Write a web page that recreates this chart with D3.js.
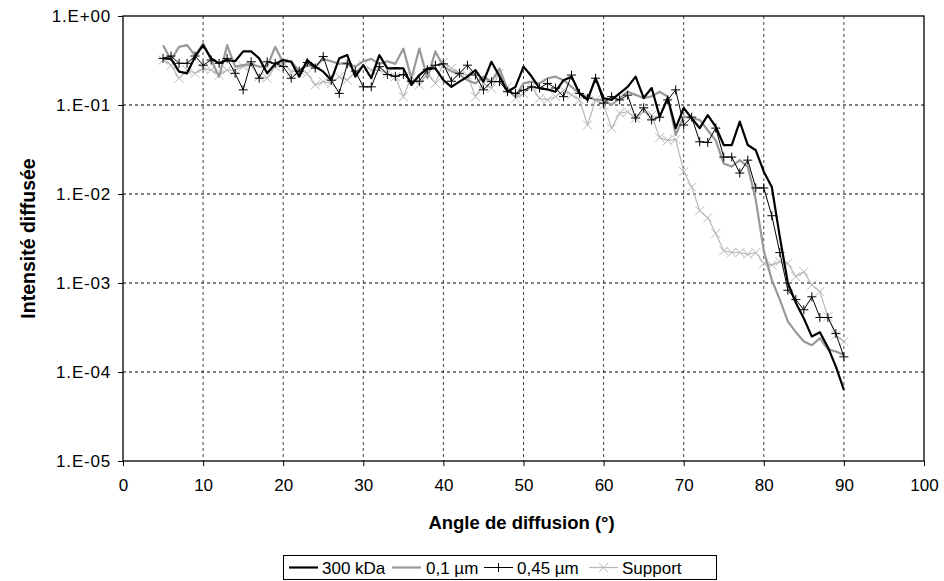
<!DOCTYPE html>
<html><head><meta charset="utf-8">
<script src="https://cdn.jsdelivr.net/npm/d3@7"></script>
<style>body{margin:0;background:#fff}svg{display:block}text{font-family:"Liberation Sans",Arial,sans-serif}</style>
</head><body>
<svg id="c" width="944" height="581"></svg>
<script>
const angles = d3.range(5, 91);
const s300kDa = [0.334,0.33,0.237,0.227,0.35,0.47,0.334,0.294,0.32,0.31,0.40,0.40,0.334,0.227,0.29,0.32,0.306,0.208,0.32,0.27,0.237,0.19,0.334,0.364,0.208,0.28,0.20,0.364,0.258,0.26,0.258,0.168,0.217,0.258,0.258,0.19,0.16,0.183,0.208,0.247,0.183,0.306,0.21,0.141,0.16,0.27,0.21,0.154,0.15,0.141,0.19,0.208,0.135,0.114,0.2,0.119,0.114,0.135,0.16,0.208,0.12,0.155,0.074,0.12,0.055,0.093,0.071,0.055,0.077,0.057,0.0355,0.0355,0.065,0.0355,0.031,0.0178,0.012,0.0033,0.001,0.0006,0.0004,0.00025,0.00028,0.00019,0.000115,0.000063];
const s01um = [0.47,0.32,0.45,0.47,0.36,0.49,0.32,0.208,0.47,0.27,0.28,0.29,0.27,0.27,0.45,0.30,0.31,0.24,0.28,0.27,0.33,0.31,0.29,0.30,0.27,0.31,0.33,0.29,0.31,0.29,0.43,0.20,0.43,0.20,0.40,0.27,0.24,0.22,0.19,0.175,0.208,0.183,0.258,0.148,0.124,0.175,0.183,0.175,0.2,0.208,0.19,0.16,0.135,0.124,0.114,0.114,0.1,0.119,0.141,0.13,0.119,0.125,0.141,0.124,0.046,0.074,0.071,0.068,0.052,0.040,0.022,0.0203,0.024,0.0203,0.0086,0.0023,0.00108,0.00065,0.00037,0.00028,0.00022,0.0002,0.00024,0.00018,0.00017,0.000155];
const s045um = [0.334,0.355,0.294,0.294,0.355,0.28,0.32,0.294,0.334,0.227,0.148,0.306,0.2,0.306,0.294,0.27,0.2,0.24,0.30,0.26,0.35,0.19,0.135,0.29,0.24,0.16,0.16,0.27,0.22,0.21,0.22,0.185,0.185,0.25,0.28,0.29,0.185,0.227,0.28,0.217,0.148,0.183,0.183,0.141,0.135,0.147,0.16,0.155,0.175,0.155,0.124,0.217,0.135,0.119,0.2,0.105,0.124,0.114,0.129,0.0714,0.093,0.068,0.073,0.114,0.148,0.0596,0.073,0.0386,0.038,0.055,0.026,0.026,0.0172,0.024,0.0117,0.0117,0.0057,0.0022,0.00083,0.00065,0.0005,0.0007,0.00041,0.00041,0.00027,0.000148];
const sSupport = [0.32,0.28,0.2,0.247,0.227,0.258,0.247,0.217,0.247,0.247,0.27,0.28,0.208,0.2,0.27,0.3,0.237,0.247,0.227,0.168,0.183,0.175,0.208,0.19,0.237,0.28,0.247,0.247,0.227,0.208,0.124,0.208,0.168,0.227,0.175,0.3,0.258,0.227,0.217,0.124,0.175,0.154,0.227,0.16,0.119,0.135,0.16,0.119,0.114,0.124,0.147,0.13,0.114,0.0596,0.114,0.1,0.055,0.081,0.084,0.071,0.084,0.077,0.043,0.040,0.041,0.0178,0.012,0.0065,0.0054,0.0036,0.0023,0.0022,0.0022,0.0021,0.0022,0.00166,0.00159,0.00174,0.00166,0.00118,0.00134,0.00095,0.0008,0.00042,0.00026,0.00022];
const seriesNames = ["300 kDa","0,1 µm","0,45 µm","Support"];
const xTicks = d3.range(0, 101, 10);
const yTicks = [1,1e-1,1e-2,1e-3,1e-4,1e-5];
const yTickLabels = ["1.E+00","1.E-01","1.E-02","1.E-03","1.E-04","1.E-05"];

const svg = d3.select("#c");
const L = 123, R = 924, T = 16, B = 461;
const x = d3.scaleLinear().domain([0,100]).range([L,R]);
const y = d3.scaleLog().domain([1e-5,1]).range([B,T]);

// grid
const g = svg.append("g");
g.selectAll(".vg").data(xTicks.slice(1,-1)).join("line")
 .attr("x1",d=>x(d)).attr("x2",d=>x(d)).attr("y1",T).attr("y2",B)
 .attr("stroke","#444").attr("stroke-dasharray","3,3").attr("stroke-width",1);
g.selectAll(".hg").data(yTicks.slice(1,-1)).join("line")
 .attr("x1",L).attr("x2",R).attr("y1",d=>y(d)).attr("y2",d=>y(d))
 .attr("stroke","#000").attr("stroke-dasharray","3,3").attr("stroke-width",1);

// axes
const xAxis = d3.axisBottom(x).tickValues(xTicks).tickSize(5).tickPadding(13).tickFormat(d3.format("d"));
const xa = svg.append("g").attr("transform",`translate(0,${B})`).call(xAxis);
const yAxis = d3.axisLeft(y).tickValues(yTicks).tickSize(5).tickPadding(7).tickFormat((d,i)=>yTickLabels[i]);
const ya = svg.append("g").attr("transform",`translate(${L},0)`).call(yAxis);
[xa,ya].forEach(a=>{a.select(".domain").remove();a.selectAll("line").attr("stroke","#000");a.selectAll("text").attr("font-size",17).attr("fill","#000").attr("font-family","Liberation Sans, Arial, sans-serif");});
ya.selectAll("text").attr("letter-spacing","0.8px");

svg.append("rect").attr("x",L).attr("y",T).attr("width",R-L).attr("height",B-T)
 .attr("fill","none").attr("stroke","#000").attr("stroke-width",1.3);

const line = d3.line().x((d,i)=>x(angles[i])).y(d=>y(d));
const styles = [
 {data:s300kDa, color:"#000", w:2.2, marker:null},
 {data:s01um, color:"#999", w:2.2, marker:null},
 {data:s045um, color:"#000", w:1, marker:"plus"},
 {data:sSupport, color:"#b8b8b8", w:1.2, marker:"cross"}
];
const plot = svg.append("g");
function drawMarker(sel, type, color, cx, cy){
  const s = 4.5;
  if(type==="plus"){
    sel.append("path").attr("d",`M${cx-s},${cy}H${cx+s}M${cx},${cy-s}V${cy+s}`).attr("stroke",color).attr("stroke-width",1).attr("fill","none");
  } else if(type==="cross"){
    sel.append("path").attr("d",`M${cx-s},${cy-s}L${cx+s},${cy+s}M${cx-s},${cy+s}L${cx+s},${cy-s}`).attr("stroke",color).attr("stroke-width",1).attr("fill","none");
  }
}
[3,1,2,0].forEach(k=>{
  const st = styles[k];
  plot.append("path").datum(st.data).attr("d",line).attr("fill","none").attr("stroke",st.color).attr("stroke-width",st.w).attr("stroke-linejoin","round");
  if(st.marker){
    st.data.forEach((v,i)=>drawMarker(plot, st.marker, st.color, x(angles[i]), y(v)));
  }
});

// titles
svg.append("text").attr("x",(L+R)/2 - 2).attr("y",529).attr("text-anchor","middle").attr("font-size",18.5).attr("font-weight","bold").text("Angle de diffusion (°)");
svg.append("text").attr("transform",`translate(35,${(T+B)/2}) rotate(-90)`).attr("text-anchor","middle").attr("font-size",19.5).attr("font-weight","bold").text("Intensité diffusée");

// legend
const lg = svg.append("g");
lg.append("rect").attr("x",283.5).attr("y",555.5).attr("width",433).attr("height",24).attr("fill","#fff").attr("stroke","#000").attr("stroke-width",1);
const lx = [289, 392, 484, 589];
const tx = [322, 426, 517, 622];
seriesNames.forEach((n,k)=>{
  const st = styles[k], cy = 567.5;
  lg.append("line").attr("x1",lx[k]).attr("x2",lx[k]+29).attr("y1",cy).attr("y2",cy).attr("stroke",st.color).attr("stroke-width",st.w);
  if(st.marker) drawMarker(lg, st.marker, st.color, lx[k]+14.5, cy);
  lg.append("text").attr("x",tx[k]).attr("y",cy+6).attr("font-size",17).text(n);
});
</script>
</body></html>
